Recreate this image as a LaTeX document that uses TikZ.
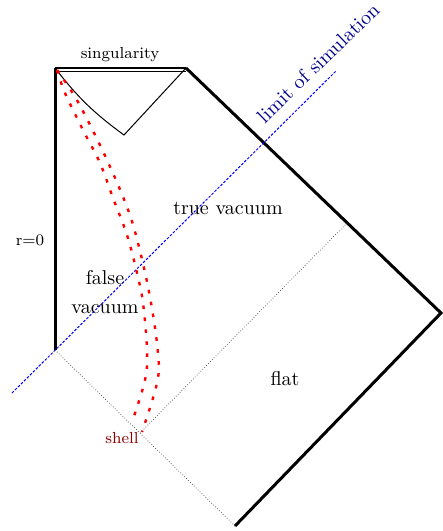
\documentclass[tikz,border=0pt]{standalone}
\usepackage{xcolor}
\usepackage{tikz}
\usetikzlibrary{positioning,calc}

\begin{document}
\begin{tikzpicture}[x=0.5pt,y=-0.5pt,
    wall/.style={line width=1.5pt},
    lightray/.style={line width=0.35pt, densely dotted, black!75},
    shellpath/.style={red, line width=1.2pt, dash pattern=on 1.8pt off 4.2pt},
    simlimit/.style={blue, line width=0.5pt, dash pattern=on 1.3pt off 0.8pt}]
    \useasboundingbox (0,0) rectangle (443,531);

    % corners of the diagram
    \coordinate (topL) at (55,68);
    \coordinate (topR) at (186,68);
    \coordinate (iZero) at (441,313);
    \coordinate (bottom) at (235,526);
    \coordinate (botL) at (55,350);
    \coordinate (apex) at (124,135);
    \coordinate (shellpt) at (140,433);
    \coordinate (rayEnd) at (348,222);
    \coordinate (bubble) at (57,70);
    \coordinate (shellA) at (132,422);
    \coordinate (shellB) at (142,432);
    \coordinate (limA) at (12,393);
    \coordinate (limB) at (336,71);

    % boundaries
    \draw[wall] (topL) -- (botL);
    \draw[wall] (topR) -- (iZero) -- (bottom);
    \draw[line width=1.1pt] (topL) -- (topR);
    \draw[line width=0.6pt] ($(topL)+(0,3.5)$) -- ($(topR)+(0,3.5)$);
    \draw[line width=0.5pt] (topL) to[bend right=8] (apex) -- (topR);

    % null rays
    \draw[lightray] (botL) -- (bottom);
    \draw[lightray] (shellpt) -- (rayEnd);

    % limit of simulation
    \draw[simlimit] (limA) -- (limB);

    % shell worldlines
    \draw[shellpath] plot[smooth, tension=0.6] coordinates {(bubble) (65,93) (83,130) (100,163)
        (113,198) (127,235) (137,273) (143,303) (147,350) (145,380) (shellA)};
    \draw[shellpath] plot[smooth, tension=0.6] coordinates {(bubble) (72,92) (85,115) (107,160)
        (127,207) (138,243) (150,297) (158,353) (157,383) (shellB)};

    % labels
    \node[font=\footnotesize] (sing) at (120,55) {singularity};
    \node[font=\normalsize, text=blue!55!black, rotate=44] (limlbl) at (318,63) {limit of simulation};
    \node[font=\normalsize] (truevac) at (228,208) {true vacuum};
    \node[font=\footnotesize] (rzero) at (30,240) {r=0};
    \node[font=\normalsize, align=center] (falsevac) at (105,292) {false\\[2.5pt]vacuum};
    \node[font=\normalsize] (flat) at (285,379) {flat};
    \node[font=\footnotesize, text=red!55!black] (shell) at (122,438) {shell};
\end{tikzpicture}
\end{document}
